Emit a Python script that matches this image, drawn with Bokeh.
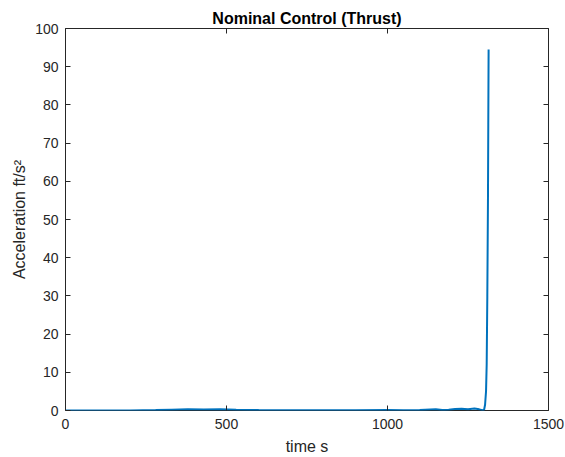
from bokeh.plotting import figure
from bokeh.models import Range1d, FixedTicker, LinearAxis
from bokeh.embed import file_html
from bokeh.resources import INLINE

# data
time_s = [0, 100, 200, 280, 330, 380, 430, 480, 530, 600, 700, 800, 900, 1000,
          1050, 1100, 1150, 1170, 1190, 1210, 1230, 1250, 1270, 1285, 1295,
          1300, 1303, 1306, 1308, 1310, 1312, 1313, 1314]
accel = [0.0, 0.0, 0.0, 0.1, 0.2, 0.3, 0.25, 0.3, 0.2, 0.1, 0.05, 0.05, 0.05, 0.1,
         0.05, 0.1, 0.3, 0.1, 0.2, 0.4, 0.45, 0.35, 0.5, 0.3, 0.1,
         0.2, 1.5, 5.0, 12.0, 30.0, 55.0, 75.0, 94.5]
x_ticks = [0, 500, 1000, 1500]
y_ticks = [0, 10, 20, 30, 40, 50, 60, 70, 80, 90, 100]
title_text = "Nominal Control (Thrust)"
x_label = "time s"
y_label = "Acceleration ft/s²"

FONT = "Liberation Sans"
AX = "#262626"

p = figure(width=565, height=457, output_backend="svg", toolbar_location=None,
           x_range=Range1d(0, 1500), y_range=Range1d(0, 100),
           min_border_left=65, min_border_right=17, min_border_top=28,
           min_border_bottom=47, title=title_text)
p.background_fill_color = "white"
p.border_fill_color = "white"
p.outline_line_color = AX
p.outline_line_width = 1
p.xgrid.visible = False
p.ygrid.visible = False

p.title.align = "center"
p.title.text_font = FONT
p.title.text_font_size = "16px"
p.title.text_font_style = "bold"
p.title.text_color = "black"
p.title.standoff = 3
p.title.offset = 0

p.line(time_s, accel, line_color="#0072BD", line_width=2)

for ax, ticks in ((p.xaxis[0], x_ticks), (p.yaxis[0], y_ticks)):
    ax.ticker = FixedTicker(ticks=ticks)
    ax.major_tick_in = 5
    ax.major_tick_out = 0
    ax.minor_tick_in = 0
    ax.minor_tick_out = 0
    ax.axis_line_color = None
    ax.major_tick_line_color = AX
    ax.major_label_text_font = FONT
    ax.major_label_text_font_size = "14px"
    ax.major_label_text_color = AX
    ax.axis_label_text_font = FONT
    ax.axis_label_text_font_size = "16px"
    ax.axis_label_text_font_style = "normal"
    ax.axis_label_text_color = AX

p.xaxis.axis_label = x_label
p.yaxis.axis_label = y_label
p.xaxis.major_label_standoff = 8
p.yaxis.major_label_standoff = 7
p.xaxis.axis_label_standoff = 6
p.yaxis.axis_label_standoff = 4

for loc, ticks in (("right", y_ticks), ("above", x_ticks)):
    a = LinearAxis(ticker=FixedTicker(ticks=ticks))
    a.major_tick_in = 5
    a.major_tick_out = 0
    a.minor_tick_in = 0
    a.minor_tick_out = 0
    a.axis_line_color = None
    a.major_tick_line_color = AX
    a.major_label_overrides = {t: "" for t in ticks}
    a.major_label_standoff = 0
    p.add_layout(a, loc)

open("out.html", "w").write(file_html(p, INLINE))
